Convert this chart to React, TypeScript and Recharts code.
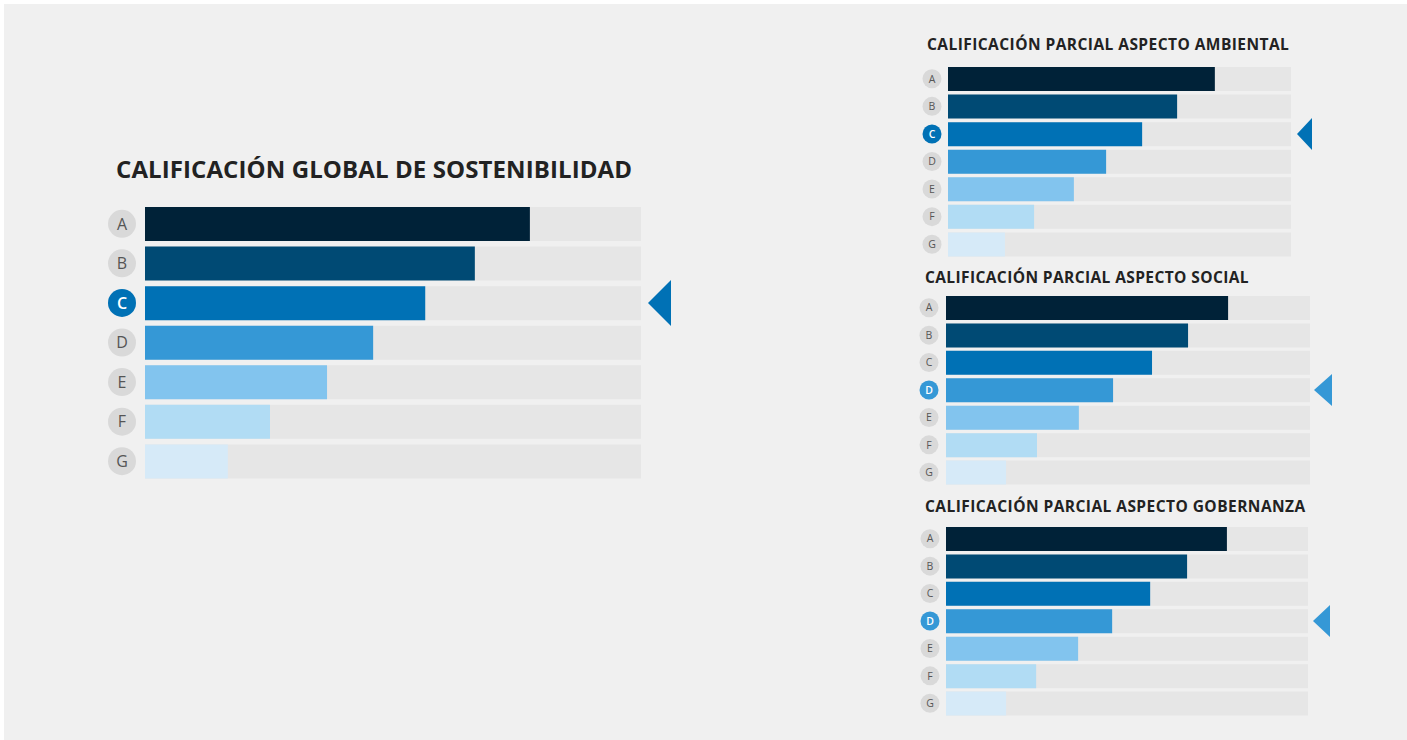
import { BarChart, Bar, XAxis, YAxis, Cell } from 'recharts'

const grades = ['A', 'B', 'C', 'D', 'E', 'F', 'G']
const gradeColors = ['#002238', '#004a74', '#0071b5', '#3598d6', '#82c4ee', '#b1dcf4', '#d6eaf8']

const globalScores = [77.6, 66.5, 56.5, 46, 36.7, 25.2, 16.7]
const ambientalScores = [77.8, 66.8, 56.6, 46.1, 36.7, 25.1, 16.6]
const socialScores = [77.5, 66.5, 56.6, 45.9, 36.5, 25, 16.5]
const gobernanzaScores = [77.6, 66.6, 56.4, 45.9, 36.5, 24.9, 16.6]

const globalTitle = 'CALIFICACIÓN GLOBAL DE SOSTENIBILIDAD'
const ambientalTitle = 'CALIFICACIÓN PARCIAL ASPECTO AMBIENTAL'
const socialTitle = 'CALIFICACIÓN PARCIAL ASPECTO SOCIAL'
const gobernanzaTitle = 'CALIFICACIÓN PARCIAL ASPECTO GOBERNANZA'

const globalGrade = 'C'
const ambientalGrade = 'C'
const socialGrade = 'D'
const gobernanzaGrade = 'D'

const FONT = '"Open Sans", "Noto Sans", sans-serif'

interface ScoreChartProps {
  scores: number[]
  selected: string
  left: number
  top: number
  width: number
  height: number
  leftAxis: number
  rightAxis: number
  barSize: number
  radius: number
  circleGap: number
  letterSize: number
  arrowW: number
  arrowH: number
  arrowGap: number
}

const ScoreChart = (p: ScoreChartProps) => {
  const data = grades.map((g, i) => ({ grade: g, score: p.scores[i] }))
  const selColor = gradeColors[grades.indexOf(p.selected)]

  const LetterTick = (props: any) => {
    const { x, y, payload } = props
    const isSel = payload.value === p.selected
    const cx = x - p.circleGap
    return (
      <g>
        <circle cx={cx} cy={y} r={p.radius} fill={isSel ? selColor : '#d9d9d9'} />
        <text
          x={cx}
          y={y}
          dy={p.letterSize * 0.36}
          textAnchor="middle"
          fontFamily={FONT}
          fontSize={p.letterSize}
          fontWeight={isSel ? 600 : 400}
          fill={isSel ? '#ffffff' : '#555555'}
        >
          {payload.value}
        </text>
      </g>
    )
  }

  const ArrowTick = (props: any) => {
    const { x, y, payload } = props
    if (payload.value !== p.selected) return <g />
    const tip = x + p.arrowGap
    const pts = `${tip},${y} ${tip + p.arrowW},${y - p.arrowH / 2} ${tip + p.arrowW},${y + p.arrowH / 2}`
    return <polygon points={pts} fill={selColor} />
  }

  return (
    <div style={{ position: 'absolute', left: p.left, top: p.top }}>
      <BarChart
        width={p.width}
        height={p.height}
        data={data}
        layout="vertical"
        margin={{ top: 0, right: 0, bottom: 0, left: 0 }}
      >
        <XAxis type="number" domain={[0, 100]} hide />
        <YAxis
          yAxisId="l"
          type="category"
          dataKey="grade"
          width={p.leftAxis}
          axisLine={false}
          tickLine={false}
          tickSize={0}
          tickMargin={0}
          tick={<LetterTick />}
        />
        <YAxis
          yAxisId="r"
          orientation="right"
          type="category"
          dataKey="grade"
          width={p.rightAxis}
          axisLine={false}
          tickLine={false}
          tickSize={0}
          tickMargin={0}
          tick={<ArrowTick />}
        />
        <Bar
          yAxisId="l"
          dataKey="score"
          barSize={p.barSize}
          background={{ fill: '#e6e6e6' }}
          isAnimationActive={false}
        >
          {data.map((d, i) => (
            <Cell key={d.grade} fill={gradeColors[i]} />
          ))}
        </Bar>
      </BarChart>
    </div>
  )
}

const titleStyle = (left: number, top: number, size: number, spacing: number): React.CSSProperties => ({
  position: 'absolute',
  left,
  top,
  fontFamily: FONT,
  fontWeight: 700,
  fontSize: size,
  letterSpacing: spacing,
  color: '#222222',
  whiteSpace: 'nowrap',
  lineHeight: 1,
})

export default function App() {
  return (
    <div style={{ position: 'absolute', left: 0, top: 0, width: 1407, height: 740, background: '#ffffff' }}>
      <div style={{ position: 'absolute', left: 4, top: 4, width: 1403, height: 736, background: '#f0f0f0' }} />

      <div style={titleStyle(116, 157, 24, 0.1)}>{globalTitle}</div>
      <ScoreChart
        scores={globalScores}
        selected={globalGrade}
        left={100}
        top={204}
        width={580}
        height={277}
        leftAxis={45}
        rightAxis={39}
        barSize={34}
        radius={14}
        circleGap={23}
        letterSize={16}
        arrowW={23}
        arrowH={46}
        arrowGap={7}
      />

      <div style={titleStyle(927, 37, 15.5, 0.45)}>{ambientalTitle}</div>
      <ScoreChart
        scores={ambientalScores}
        selected={ambientalGrade}
        left={915}
        top={65}
        width={401}
        height={193}
        leftAxis={33}
        rightAxis={25}
        barSize={24}
        radius={9.5}
        circleGap={16}
        letterSize={10.5}
        arrowW={15}
        arrowH={32}
        arrowGap={6}
      />

      <div style={titleStyle(925, 270, 15.5, 0.4)}>{socialTitle}</div>
      <ScoreChart
        scores={socialScores}
        selected={socialGrade}
        left={913}
        top={294}
        width={422}
        height={192}
        leftAxis={33}
        rightAxis={25}
        barSize={24}
        radius={9.5}
        circleGap={17}
        letterSize={10.5}
        arrowW={18}
        arrowH={32}
        arrowGap={4}
      />

      <div style={titleStyle(925, 499, 15.5, 0.45)}>{gobernanzaTitle}</div>
      <ScoreChart
        scores={gobernanzaScores}
        selected={gobernanzaGrade}
        left={913}
        top={525}
        width={420}
        height={192}
        leftAxis={33}
        rightAxis={25}
        barSize={24}
        radius={9.5}
        circleGap={16}
        letterSize={10.5}
        arrowW={17}
        arrowH={32}
        arrowGap={5}
      />
    </div>
  )
}
